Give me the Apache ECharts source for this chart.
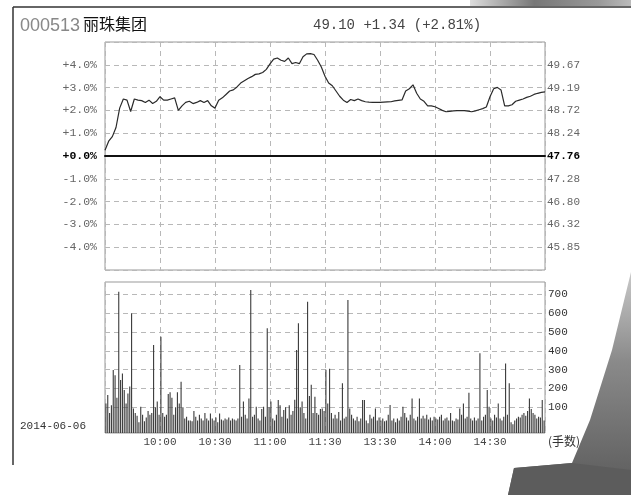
<!DOCTYPE html>
<html><head><meta charset="utf-8">
<script src="https://cdn.jsdelivr.net/npm/echarts@6/dist/echarts.min.js"></script>
<style>html,body{margin:0;padding:0;background:#fff}#c{width:631px;height:495px}</style>
</head><body><div id="c"></div>
<script>
// ---- data ----
const stockCode = '000513';
const stockName = '丽珠集团';
const quoteText = '49.10 +1.34 (+2.81%)';
const dateText = '2014-06-06';
const volUnit = '(手数)';
// price change (%) sampled every 2 minutes from 9:30 (minute 0) to 15:00 (minute 240)
const pricePct = [
  0.25,0.65,0.85,1.25,2.10,2.50,2.45,1.95,2.50,2.45,
  2.43,2.35,2.45,2.30,2.40,2.60,2.45,2.45,2.50,2.55,
  2.00,2.20,2.35,2.40,2.30,2.35,2.43,2.35,2.43,2.20,
  2.10,2.45,2.55,2.70,2.85,2.90,3.03,3.20,3.30,3.40,
  3.48,3.58,3.60,3.66,3.80,4.04,4.25,4.30,4.20,4.15,
  4.30,4.05,4.10,4.05,4.35,4.48,4.49,4.45,4.20,3.90,
  3.50,3.20,3.08,2.85,2.62,2.45,2.35,2.48,2.43,2.50,
  2.43,2.38,2.36,2.35,2.35,2.35,2.36,2.37,2.38,2.42,
  2.44,2.46,2.85,2.95,3.12,2.75,2.50,2.40,2.20,2.20,
  2.16,2.08,2.00,1.94,1.96,1.98,1.99,1.99,1.99,1.97,
  1.94,1.98,2.03,2.08,2.15,2.60,2.95,3.01,2.90,2.20,
  2.20,2.25,2.40,2.45,2.50,2.57,2.62,2.70,2.75,2.79,
  2.81
];
const priceStepMin = 2;
// volume per minute (240 minutes)
const volume = [
  120,165,70,110,298,270,150,714,245,280,
  192,120,173,210,600,93,70,55,20,103,
  60,25,45,80,60,70,431,100,130,60,
  475,70,50,60,170,180,150,60,100,180,
  120,236,100,40,50,30,30,25,80,50,
  30,60,40,30,70,40,30,67,40,30,
  45,20,67,35,30,40,35,45,30,40,
  35,30,40,324,50,130,60,40,147,723,
  50,60,103,40,30,90,103,50,520,100,
  130,40,30,60,139,110,50,85,100,40,
  110,60,80,140,405,546,100,130,70,40,
  661,160,220,70,156,70,60,90,93,80,
  300,120,305,70,40,60,40,75,30,227,
  40,50,670,93,60,40,30,50,25,40,
  139,139,30,15,60,40,50,93,30,45,
  30,40,25,30,60,112,30,40,20,40,
  30,50,103,70,45,30,60,147,40,30,
  50,147,40,55,40,60,35,45,30,50,
  40,35,50,60,30,40,45,30,70,30,
  25,40,35,93,60,120,40,50,177,40,
  30,45,30,40,387,30,50,60,192,103,
  40,30,60,45,120,40,30,50,333,60,
  227,20,10,30,40,50,45,60,70,55,
  80,147,90,70,60,40,50,45,139,30
];
const pctTicks = [-5,-4,-3,-2,-1,0,1,2,3,4,5];
const pctLabels = ['', '-4.0%','-3.0%','-2.0%','-1.0%','+0.0%','+1.0%','+2.0%','+3.0%','+4.0%',''];
const priceLabels = ['', '45.85','46.32','46.80','47.28','47.76','48.24','48.72','49.19','49.67',''];
const timeLabels = ['', '10:00','10:30','11:00','11:30','13:30','14:00','14:30',''];
const volTicks = [100,200,300,400,500,600,700];

// ---- chart ----
const mono = 'Liberation Mono';
const chart = echarts.init(document.getElementById('c'), null, {renderer:'canvas'});
const priceData = pricePct.map((v,i)=>[i*priceStepMin, v]);
const volData = volume.map((v,i)=>[i+0.5, v]);
const dashed = {show:true, lineStyle:{color:'#b8b8b8', type:[5,4], width:1}};
function labelAt(list, ticks){ return v => { const i = ticks.indexOf(Math.round(v*100)/100); return i<0?'':list[i]; }; }

chart.setOption({
  animation:false,
  backgroundColor:'#ffffff',
  grid:[
    {left:105, top:42, width:440, height:228, show:true, borderColor:'#999', borderWidth:1, backgroundColor:'transparent'},
    {left:105, top:282, width:440, height:151, show:true, borderColor:'#999', borderWidth:1, backgroundColor:'transparent'}
  ],
  xAxis:[
    {type:'value', gridIndex:0, min:0, max:240, interval:30,
     axisLine:{show:true, onZero:true, lineStyle:{color:'#111', width:2}},
     axisTick:{show:false}, axisLabel:{show:false}, splitLine:dashed},
    {type:'value', gridIndex:1, min:0, max:240, interval:30,
     axisLine:{show:false}, axisTick:{show:false},
     axisLabel:{margin:4, fontFamily:mono, fontSize:11, color:'#444',
       formatter:v=>timeLabels[Math.round(v/30)]||''},
     splitLine:dashed}
  ],
  yAxis:[
    {type:'value', gridIndex:0, min:-5, max:5, interval:1, position:'left',
     axisLine:{show:false}, axisTick:{show:false},
     axisLabel:{margin:8, fontFamily:mono, fontSize:11.5, color:'#666',
       formatter:v=>{const s=labelAt(pctLabels,pctTicks)(v); return v===0?'{z|'+s+'}':s;},
       rich:{z:{fontFamily:mono, fontSize:11.5, color:'#000', fontWeight:'bold'}}},
     splitLine:dashed},
    {type:'value', gridIndex:0, min:-5, max:5, interval:1, position:'right',
     axisLine:{show:false}, axisTick:{show:false},
     axisLabel:{margin:2, fontFamily:mono, fontSize:11, color:'#666',
       formatter:v=>{const s=labelAt(priceLabels,pctTicks)(v); return v===0?'{z|'+s+'}':s;},
       rich:{z:{fontFamily:mono, fontSize:11, color:'#000', fontWeight:'bold'}}},
     splitLine:{show:false}},
    {type:'value', gridIndex:1, min:-37, max:766, position:'right',
     axisLine:{show:false}, axisTick:{show:false, customValues:volTicks},
     axisLabel:{margin:3, fontFamily:mono, fontSize:11, color:'#333', customValues:volTicks},
     splitLine:dashed}
  ],
  series:[
    {type:'line', xAxisIndex:0, yAxisIndex:0, data:priceData, showSymbol:false, silent:true,
     lineStyle:{color:'#2a2a2a', width:1.2}},
    {type:'custom', xAxisIndex:1, yAxisIndex:2, data:volData, silent:true,
     renderItem:(params, api)=>{
       const p = api.coord([api.value(0), api.value(1)]);
       const bottom = params.coordSys.y + params.coordSys.height;
       const w = 1.1;
       return {type:'rect', shape:{x:p[0]-w/2, y:p[1], width:w, height:bottom-p[1]}, style:{fill:'#3a3a3a'}};
     }}
  ],
  graphic:[
    {type:'line', shape:{x1:13, y1:7, x2:631, y2:7}, style:{stroke:'#333', lineWidth:1.5}},
    {type:'line', shape:{x1:13, y1:7, x2:13, y2:465}, style:{stroke:'#333', lineWidth:1.5}},
    {type:'text', left:20, top:17, style:{text:stockCode, font:'18px "Liberation Sans"', fill:'#888'}},
    {type:'text', left:83, top:16, style:{text:stockName, font:'16px "Noto Sans CJK SC"', fill:'#111'}},
    {type:'text', left:313, top:18, style:{text:quoteText, font:'14px "Liberation Mono"', fill:'#444'}},
    {type:'text', left:20, top:421, style:{text:dateText, font:'11px "Liberation Mono"', fill:'#333'}},
    {type:'text', left:548, top:435, style:{text:volUnit, font:'12px "Noto Sans CJK SC"', fill:'#333'}},
    // paper surroundings (photo)
    {type:'rect', z:10, shape:{x:470, y:0, width:161, height:6},
     style:{fill:new echarts.graphic.LinearGradient(0,0,1,0,[{offset:0,color:'#ddd'},{offset:0.4,color:'#777'},{offset:0.8,color:'#999'},{offset:1,color:'#bbb'}])}},
    {type:'polygon', z:10, shape:{points:[[631,272],[631,495],[508,495],[514,468],[572,463],[590,420],[612,350]]},
     style:{fill:new echarts.graphic.LinearGradient(0,0,0,1,[{offset:0,color:'#c8c8c8'},{offset:0.4,color:'#8a8a8a'},{offset:1,color:'#5a5a5a'}])}},
    {type:'polygon', z:11, shape:{points:[[514,468],[572,463],[631,470],[631,495],[508,495]]},
     style:{fill:'#5c5c5c'}}
  ]
});
</script></body></html>
